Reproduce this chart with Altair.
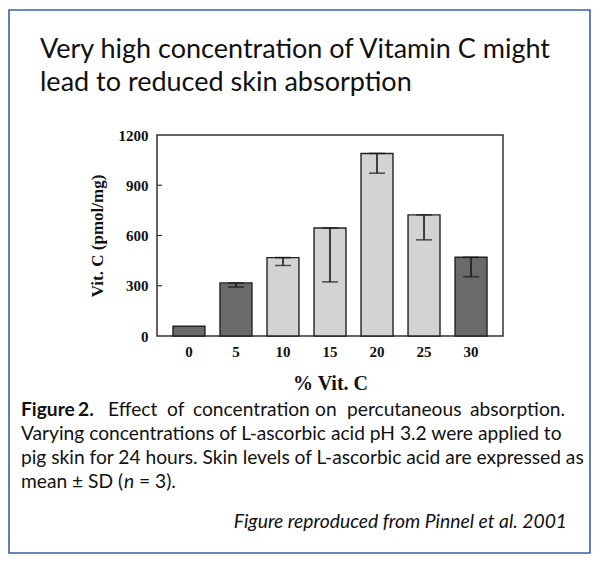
import altair as alt
import pandas as pd

# ---- data ----
concentrations = ["0", "5", "10", "15", "20", "25", "30"]
means = [58, 317, 468, 645, 1090, 723, 470]
sds = [0, 25, 47, 322, 118, 149, 116]
fill_style = ["hatched", "hatched", "stippled", "stippled", "stippled", "stippled", "hatched"]
y_ticks = [0, 300, 600, 900, 1200]
inner_ticks = [300, 600, 900]

title_lines = ["Very high concentration of Vitamin C might",
               "lead to reduced skin absorption"]
caption_line1_words = ["Figure", "2.", "Effect", "of", "concentration", "on",
                       "percutaneous", "absorption."]
caption_lines = ["Varying concentrations of L-ascorbic acid pH 3.2 were applied to",
                 "pig skin for 24 hours. Skin levels of L-ascorbic acid are expressed as"]
caption_last = ["mean \u00b1 SD (", "n", "= 3)."]
source_note = "Figure reproduced from Pinnel et al. 2001"

df = pd.DataFrame({"conc": concentrations, "mean": means, "sd": sds, "style": fill_style})
df["low"] = df["mean"] - df["sd"]

SERIF = "Liberation Serif"
SANS = "Lato"

x_enc = alt.X("conc:N", sort=concentrations,
              scale=alt.Scale(paddingInner=0.32, paddingOuter=0.34),
              axis=alt.Axis(title="% Vit. C", labelAngle=0, labelPadding=8,
                            titlePadding=14, titleFontSize=20))
y_enc = alt.Y("mean:Q", scale=alt.Scale(domain=[0, 1200], nice=False),
              axis=alt.Axis(values=y_ticks, format="d", title="Vit. C (pmol/mg)",
                            labelPadding=9, titlePadding=12, titleFontSize=17))

bars = alt.Chart(df).mark_bar(stroke="#222222", strokeWidth=1.4).encode(
    x=x_enc, y=y_enc,
    color=alt.Color("style:N", scale=alt.Scale(domain=["hatched", "stippled"],
                                               range=["#6a6a6a", "#d3d3d3"]), legend=None))

err_df = df[df["sd"] > 0]
xs = alt.X("conc:N", sort=concentrations)
err_rule = alt.Chart(err_df).mark_rule(color="#1a1a1a", strokeWidth=1.6).encode(
    x=xs, y="low:Q", y2="mean:Q")
cap_low = alt.Chart(err_df).mark_tick(color="#1a1a1a", size=16, thickness=1.6).encode(
    x=xs, y="low:Q")
cap_high = alt.Chart(err_df).mark_tick(color="#1a1a1a", size=16, thickness=1.6).encode(
    x=xs, y="mean:Q")

ticks = alt.Chart(pd.DataFrame({"t": inner_ticks})).mark_rule(color="#333", strokeWidth=1.2).encode(
    y="t:Q", x=alt.value(0), x2=alt.value(5))


def txt(s, x, y, size, align="left", weight="normal", style="normal", font=SANS, color="#111111"):
    return alt.Chart(pd.DataFrame({"t": [s]})).mark_text(
        align=align, baseline="middle", fontSize=size, fontWeight=weight,
        fontStyle=style, font=font, color=color).encode(
        text="t:N", x=alt.value(x), y=alt.value(y))


border = alt.Chart(pd.DataFrame({"a": [0]})).mark_rect(
    fill="transparent", stroke="#3c5fa6", strokeWidth=1.6).encode(
    x=alt.value(-148), x2=alt.value(433), y=alt.value(-125), y2=alt.value(418))

CAP = 19.2
word_x = [-136, -79, -49, 10, 36, 158, 190, 313]
texts = [
    txt(title_lines[0], -117, -85, 27),
    txt(title_lines[1], -117, -52, 27),
]
for i, (w, xx) in enumerate(zip(caption_line1_words, word_x)):
    texts.append(txt(w, xx, 275, CAP, weight="bold" if i < 2 else "normal"))
texts += [
    txt(caption_lines[0], -136, 299, CAP),
    txt(caption_lines[1], -136, 323, CAP),
    txt(caption_last[0], -136, 347, CAP),
    txt(caption_last[1], -33, 347, CAP, style="italic"),
    txt(caption_last[2], -18, 347, CAP),
    txt(source_note, 410, 387, 19.3, align="right", style="italic"),
]

chart = alt.layer(border, bars, err_rule, cap_low, cap_high, ticks, *texts).properties(
    width=346, height=201,
    autosize=alt.AutoSizeParams(type="none"),
    padding={"left": 149, "top": 127, "right": 89, "bottom": 219},
    background="white",
).configure_view(stroke="#333333", strokeWidth=1.5).configure_axis(
    labelFont=SERIF, labelFontWeight="bold", labelFontSize=15, labelColor="#111111",
    titleFont=SERIF, titleFontWeight="bold", titleColor="#111111",
    domain=False, ticks=False, grid=False)

chart.save("out.html", embed_options={"renderer": "svg", "actions": False})
